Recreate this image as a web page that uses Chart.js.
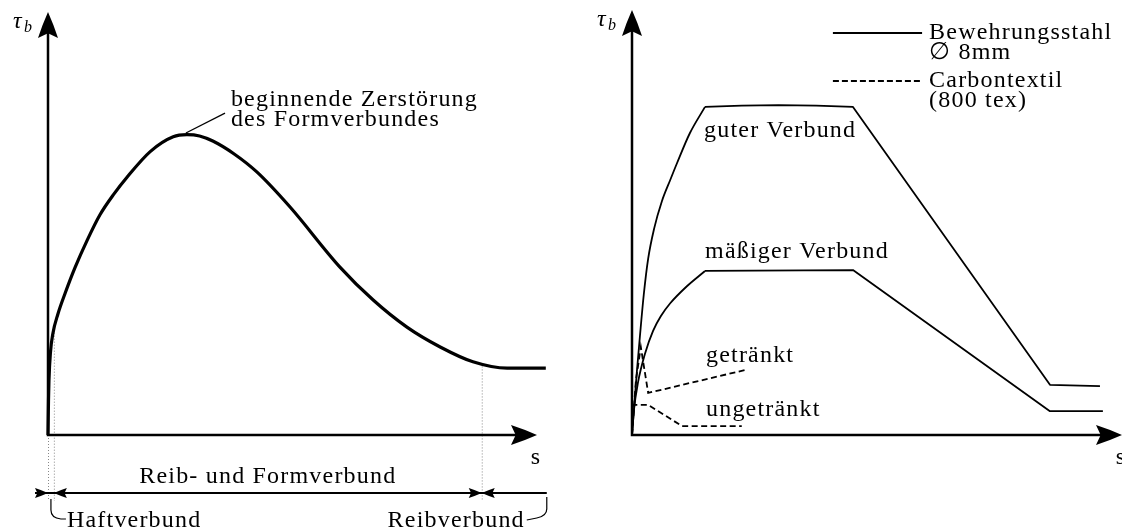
<!DOCTYPE html>
<html>
<head>
<meta charset="utf-8">
<script src="https://cdn.jsdelivr.net/npm/chart.js@4.4.1/dist/chart.umd.min.js"></script>
<style>
  html, body { margin: 0; padding: 0; background: #fff; overflow: hidden; }
  #wrap { position: relative; width: 1122px; height: 528px; }
  canvas { position: absolute; top: 0; }
  #left { left: 0; }
  #right { left: 570px; }
</style>
</head>
<body>
<div id="wrap">
  <canvas id="left" width="570" height="528"></canvas>
  <canvas id="right" width="552" height="528"></canvas>
</div>
<script>
// ---------- left: generic bond stress - slip curve ----------
const sLeft   = [0, 0.01, 0.02, 0.05, 0.10, 0.20, 0.35, 0.55, 0.80, 1.06, 1.35, 1.62, 2.09, 2.56, 2.84, 3.10, 3.37, 3.80, 4.27, 4.95, 5.97, 6.65, 7.34, 8.02, 8.69, 9.39, 10.18];
const tauLeft = [0, 0.80, 1.30, 1.95, 2.40, 2.85, 3.35, 3.95, 4.60, 5.20, 5.70, 6.10, 6.70, 7.05, 7.10, 7.07, 6.95, 6.65, 6.22, 5.39, 3.97, 3.19, 2.55, 2.08, 1.73, 1.58, 1.58];

// zone borders on the s axis: Haftverbund | Reib- und Formverbund | Reibverbund
const zoneBounds = [0, 0.12, 8.87, 10.2];
const zoneLabels = ["Haftverbund", "Reib- und Formverbund", "Reibverbund"];
const peakNote = ["beginnende Zerstörung", "des Formverbundes"];

// ---------- right: steel vs carbon textile ----------
// curved rise, then plateau + linear softening
const sGutRise   = [0, 0.04, 0.10, 0.16, 0.24, 0.33, 0.45, 0.61, 0.78, 0.92, 1.18, 1.49];
const tauGutRise = [0, 0.60, 1.50, 2.30, 3.30, 4.15, 4.85, 5.50, 6.00, 6.40, 7.10, 7.72];
const sGut   = [1.49, 2.24, 2.99, 3.76, 4.51, 8.53, 9.55];
const tauGut = [7.72, 7.75, 7.76, 7.75, 7.72, 1.18, 1.15];
const sMaessigRise   = [0, 0.04, 0.12, 0.27, 0.43, 0.59, 0.78, 1.12, 1.49];
const tauMaessigRise = [0, 0.59, 1.22, 1.93, 2.45, 2.80, 3.10, 3.50, 3.86];
const sMaessig   = [1.49, 4.51, 8.53, 9.61];
const tauMaessig = [3.86, 3.88, 0.56, 0.56];
const sGetraenkt   = [0, 0.08, 0.18, 0.33, 2.31];
const tauGetraenkt = [0, 1.29, 2.07, 0.99, 1.53];
const sUngetraenkt   = [0, 0.02, 0.33, 1.02, 2.24];
const tauUngetraenkt = [0, 0.71, 0.71, 0.21, 0.21];

const curveLabels = ["guter Verbund", "mäßiger Verbund", "getränkt", "ungetränkt"];
const legendLines = [["Bewehrungsstahl", "∅ 8mm"], ["Carbontextil", "(800 tex)"]];

const FONT = '"Liberation Serif", "DejaVu Serif", serif';

function pts(xs, ys) {
  return xs.map((x, i) => ({ x: x, y: ys[i] }));
}

function interp(xs, ys, x) {
  for (let i = 1; i < xs.length; i++) {
    if (x <= xs[i]) {
      const t = (x - xs[i - 1]) / (xs[i] - xs[i - 1]);
      return ys[i - 1] + t * (ys[i] - ys[i - 1]);
    }
  }
  return ys[ys.length - 1];
}

function txt(ctx, s, x, y, align, size, style) {
  ctx.save();
  ctx.font = (style || "") + " " + (size || 24) + "px " + FONT;
  ctx.letterSpacing = "1.2px";
  ctx.textAlign = align || "left";
  ctx.textBaseline = "alphabetic";
  ctx.fillStyle = "#000";
  ctx.fillText(s, x, y);
  ctx.restore();
}

// latex-like arrow head, (dx,dy) is the pointing direction
function arrowHead(ctx, tx, ty, dx, dy, len, half) {
  const bx = tx - dx * len, by = ty - dy * len;
  const nx = -dy, ny = dx;
  const mx = tx - dx * len * 0.5, my = ty - dy * len * 0.5;
  ctx.beginPath();
  ctx.moveTo(tx, ty);
  ctx.quadraticCurveTo(mx + nx * half * 0.58, my + ny * half * 0.58, bx + nx * half, by + ny * half);
  ctx.lineTo(tx - dx * len * 0.82, ty - dy * len * 0.82);
  ctx.lineTo(bx - nx * half, by - ny * half);
  ctx.quadraticCurveTo(mx - nx * half * 0.58, my - ny * half * 0.58, tx, ty);
  ctx.closePath();
  ctx.fill();
}

function drawAxes(chart, lw) {
  const ctx = chart.ctx, a = chart.chartArea;
  const x0 = chart.scales.x.getPixelForValue(0);
  const y0 = chart.scales.y.getPixelForValue(0);
  ctx.save();
  ctx.strokeStyle = "#000"; ctx.fillStyle = "#000"; ctx.lineWidth = lw;
  ctx.beginPath();
  ctx.moveTo(x0, y0); ctx.lineTo(x0, a.top + 20);
  ctx.moveTo(x0 - lw / 2, y0); ctx.lineTo(a.right - 20, y0);
  ctx.stroke();
  arrowHead(ctx, x0, a.top, 0, -1, 26, 10);
  arrowHead(ctx, a.right, y0, 1, 0, 26, 10);
  // axis titles
  txt(ctx, "τ", x0 - 35, a.top + 16, "left", 24, "italic");
  txt(ctx, "b", x0 - 24, a.top + 20, "left", 16, "italic");
  txt(ctx, "s", a.right - 1, y0 + 29, "center", 24);
  ctx.restore();
}

function baseOptions(pad) {
  return {
    responsive: false,
    animation: false,
    devicePixelRatio: 1,
    layout: { padding: pad },
    plugins: { legend: { display: false }, tooltip: { enabled: false } },
    elements: { point: { radius: 0 } },
    scales: {
      x: { type: "linear", min: 0, max: 10, display: false },
      y: { type: "linear", min: 0, max: 10, display: false }
    }
  };
}

// ================= left chart =================
const leftDeco = {
  id: "leftDeco",
  beforeDatasetsDraw(chart) {
    const ctx = chart.ctx, sx = chart.scales.x, sy = chart.scales.y;
    const y0 = sy.getPixelForValue(0);
    const dimY = y0 + 58;
    // dotted guides from the curve down to the dimension line
    ctx.save();
    ctx.strokeStyle = "#888"; ctx.lineWidth = 1; ctx.setLineDash([1, 2]);
    zoneBounds.slice(0, 3).forEach(b => {
      const px = sx.getPixelForValue(b);
      const top = b === 0 ? y0 : sy.getPixelForValue(interp(sLeft, tauLeft, b));
      ctx.beginPath(); ctx.moveTo(px + 0.5, top); ctx.lineTo(px + 0.5, dimY + 8); ctx.stroke();
    });
    ctx.restore();
    drawAxes(chart, 2.5);
  },
  afterDatasetsDraw(chart) {
    const ctx = chart.ctx, sx = chart.scales.x, sy = chart.scales.y;
    const y0 = sy.getPixelForValue(0);
    const dimY = y0 + 58;
    const b0 = sx.getPixelForValue(zoneBounds[0]);
    const b1 = sx.getPixelForValue(zoneBounds[1]);
    const b2 = sx.getPixelForValue(zoneBounds[2]);
    const b3 = sx.getPixelForValue(zoneBounds[3]);
    ctx.save();
    ctx.strokeStyle = "#000"; ctx.fillStyle = "#000"; ctx.lineWidth = 1.8;
    // dimension line
    ctx.beginPath(); ctx.moveTo(b0 - 13, dimY); ctx.lineTo(b3, dimY); ctx.stroke();
    arrowHead(ctx, b0, dimY, 1, 0, 13, 5);
    arrowHead(ctx, b1, dimY, -1, 0, 13, 5);
    arrowHead(ctx, b2, dimY, 1, 0, 13, 5);
    arrowHead(ctx, b2, dimY, -1, 0, 13, 5);
    // braces to the small zone labels
    ctx.lineWidth = 1.2;
    const hx = (b0 + b1) / 2;
    ctx.beginPath();
    ctx.moveTo(hx, dimY + 6); ctx.lineTo(hx, dimY + 17);
    ctx.quadraticCurveTo(hx, dimY + 25, hx + 10, dimY + 26); ctx.lineTo(hx + 15, dimY + 26);
    ctx.stroke();
    ctx.beginPath();
    ctx.moveTo(b3, dimY + 4); ctx.lineTo(b3, dimY + 16);
    ctx.quadraticCurveTo(b3, dimY + 23, b3 - 10, dimY + 25); ctx.lineTo(b3 - 20, dimY + 27);
    ctx.stroke();
    txt(ctx, zoneLabels[0], hx + 16, dimY + 34);
    txt(ctx, zoneLabels[1], (b1 + b2) / 2, dimY - 10, "center");
    txt(ctx, zoneLabels[2], b3 - 22, dimY + 34, "right");
    // peak note with leader line
    ctx.lineWidth = 1.3;
    ctx.beginPath();
    ctx.moveTo(sx.getPixelForValue(2.82), sy.getPixelForValue(7.14));
    ctx.lineTo(sx.getPixelForValue(3.62), sy.getPixelForValue(7.61));
    ctx.stroke();
    const nx = sx.getPixelForValue(3.74), ny = sy.getPixelForValue(7.78);
    txt(ctx, peakNote[0], nx, ny);
    txt(ctx, peakNote[1], nx, ny + 20);
    ctx.restore();
  }
};

new Chart(document.getElementById("left").getContext("2d"), {
  type: "line",
  data: {
    datasets: [{
      data: pts(sLeft, tauLeft),
      borderColor: "#000",
      borderWidth: 3.2,
      cubicInterpolationMode: "monotone",
      clip: false
    }]
  },
  options: baseOptions({ left: 48, top: 12, right: 33, bottom: 93 }),
  plugins: [leftDeco]
});

// ================= right chart =================
const rightDeco = {
  id: "rightDeco",
  beforeDatasetsDraw(chart) {
    drawAxes(chart, 2.5);
  },
  afterDatasetsDraw(chart) {
    const ctx = chart.ctx, sx = chart.scales.x, sy = chart.scales.y;
    ctx.save();
    ctx.strokeStyle = "#000"; ctx.lineWidth = 1.8;
    // legend
    const lx0 = sx.getPixelForValue(4.1), lx1 = sx.getPixelForValue(5.92);
    ctx.beginPath(); ctx.moveTo(lx0, 33); ctx.lineTo(lx1, 33); ctx.stroke();
    ctx.setLineDash([6, 3]);
    ctx.beginPath(); ctx.moveTo(lx0, 81); ctx.lineTo(lx1, 81); ctx.stroke();
    ctx.setLineDash([]);
    txt(ctx, legendLines[0][0], lx1 + 7, 39);
    txt(ctx, legendLines[0][1], lx1 + 7, 59);
    txt(ctx, legendLines[1][0], lx1 + 7, 87);
    txt(ctx, legendLines[1][1], lx1 + 7, 107);
    // curve labels
    txt(ctx, curveLabels[0], sx.getPixelForValue(1.47), sy.getPixelForValue(7.01));
    txt(ctx, curveLabels[1], sx.getPixelForValue(1.49), sy.getPixelForValue(4.16));
    txt(ctx, curveLabels[2], sx.getPixelForValue(1.51), sy.getPixelForValue(1.72));
    txt(ctx, curveLabels[3], sx.getPixelForValue(1.51), sy.getPixelForValue(0.45));
    ctx.restore();
  }
};

const smooth = { borderColor: "#000", borderWidth: 1.8, cubicInterpolationMode: "monotone", clip: false };
const solid = { borderColor: "#000", borderWidth: 1.8, tension: 0, clip: false, borderJoinStyle: "round" };
const dashed = { borderColor: "#000", borderWidth: 1.8, tension: 0, borderDash: [6, 3.5], clip: false };

new Chart(document.getElementById("right").getContext("2d"), {
  type: "line",
  data: {
    datasets: [
      Object.assign({ label: "guter Verbund", data: pts(sGutRise, tauGutRise) }, smooth),
      Object.assign({ label: "guter Verbund", data: pts(sGut, tauGut) }, solid),
      Object.assign({ label: "mäßiger Verbund", data: pts(sMaessigRise, tauMaessigRise) }, smooth),
      Object.assign({ label: "mäßiger Verbund", data: pts(sMaessig, tauMaessig) }, solid),
      Object.assign({ label: "getränkt", data: pts(sGetraenkt, tauGetraenkt) }, dashed),
      Object.assign({ label: "ungetränkt", data: pts(sUngetraenkt, tauUngetraenkt) }, dashed)
    ]
  },
  options: baseOptions({ left: 62, top: 10, right: 0, bottom: 93 }),
  plugins: [rightDeco]
});
</script>
</body>
</html>
